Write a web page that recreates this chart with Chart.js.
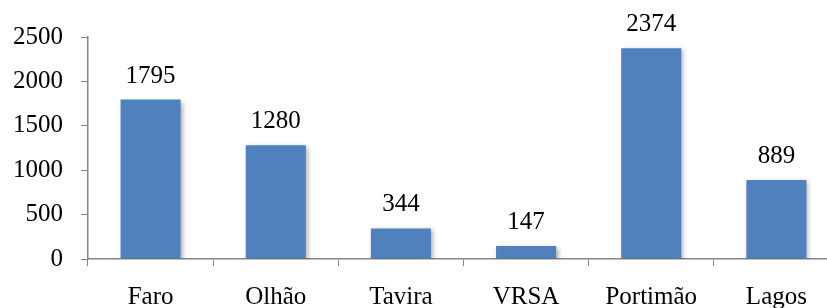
<!DOCTYPE html>
<html>
<head>
<meta charset="utf-8">
<script src="https://cdn.jsdelivr.net/npm/chart.js@4"></script>
<style>
  html, body { margin: 0; padding: 0; background: #fff; overflow: hidden; }
  #wrap { width: 860px; height: 308px; }
</style>
</head>
<body>
<div id="wrap"><canvas id="barChart" width="860" height="308"></canvas></div>
<script>
const categories = ['Faro', 'Olhão', 'Tavira', 'VRSA', 'Portimão', 'Lagos'];
const values = [1795, 1280, 344, 147, 2374, 889];
const yTicks = [0, 500, 1000, 1500, 2000, 2500];

const axisColor = '#868686';
const barColor = 'rgb(79, 129, 189)';
const fontFamily = "'Liberation Serif', serif";

// soft shadow behind the bars
const barShadow = {
    id: 'barShadow',
    beforeDatasetsDraw(chart) {
        const c = chart.ctx;
        c.save();
        c.shadowColor = 'rgba(0,0,0,0.35)';
        c.shadowBlur = 5;
        c.shadowOffsetX = 2;
        c.shadowOffsetY = 2;
    },
    afterDatasetsDraw(chart) {
        chart.ctx.restore();
    }
};

// value labels over each bar
const valueLabels = {
    id: 'valueLabels',
    afterDraw(chart) {
        const c = chart.ctx;
        const meta = chart.getDatasetMeta(0);
        c.save();
        c.font = '25px ' + fontFamily;
        c.fillStyle = '#000';
        c.textAlign = 'center';
        c.textBaseline = 'alphabetic';
        meta.data.forEach((bar, i) => {
            c.fillText(String(values[i]), bar.x, bar.y - 17);
        });
        c.restore();
    }
};

const ctx = document.getElementById('barChart').getContext('2d');
new Chart(ctx, {
    type: 'bar',
    data: {
        labels: categories,
        datasets: [{
            data: values,
            backgroundColor: barColor,
            borderWidth: 0,
            barPercentage: 0.48,
            categoryPercentage: 1
        }]
    },
    options: {
        responsive: false,
        animation: false,
        layout: { padding: { top: 37, right: 21, bottom: 0, left: 0 } },
        plugins: { legend: { display: false }, tooltip: { enabled: false } },
        scales: {
            x: {
                grid: { display: true, drawOnChartArea: false, offset: true, color: axisColor, tickLength: 7 },
                border: { color: axisColor, width: 1.5 },
                ticks: { color: '#000', font: { family: fontFamily, size: 25 }, padding: 16, maxRotation: 0 },
                afterFit(scale) { scale.height = 49; }
            },
            y: {
                min: 0,
                max: 2500,
                afterBuildTicks(scale) { scale.ticks = yTicks.map(v => ({ value: v })); },
                grid: { display: true, drawOnChartArea: false, color: axisColor, tickLength: 7 },
                border: { color: axisColor, width: 1.5 },
                ticks: {
                    color: '#000',
                    font: { family: fontFamily, size: 25 },
                    padding: 18,
                    callback: v => String(v)
                },
                afterFit(scale) { scale.width = 88; }
            }
        }
    },
    plugins: [barShadow, valueLabels]
});
</script>
</body>
</html>
